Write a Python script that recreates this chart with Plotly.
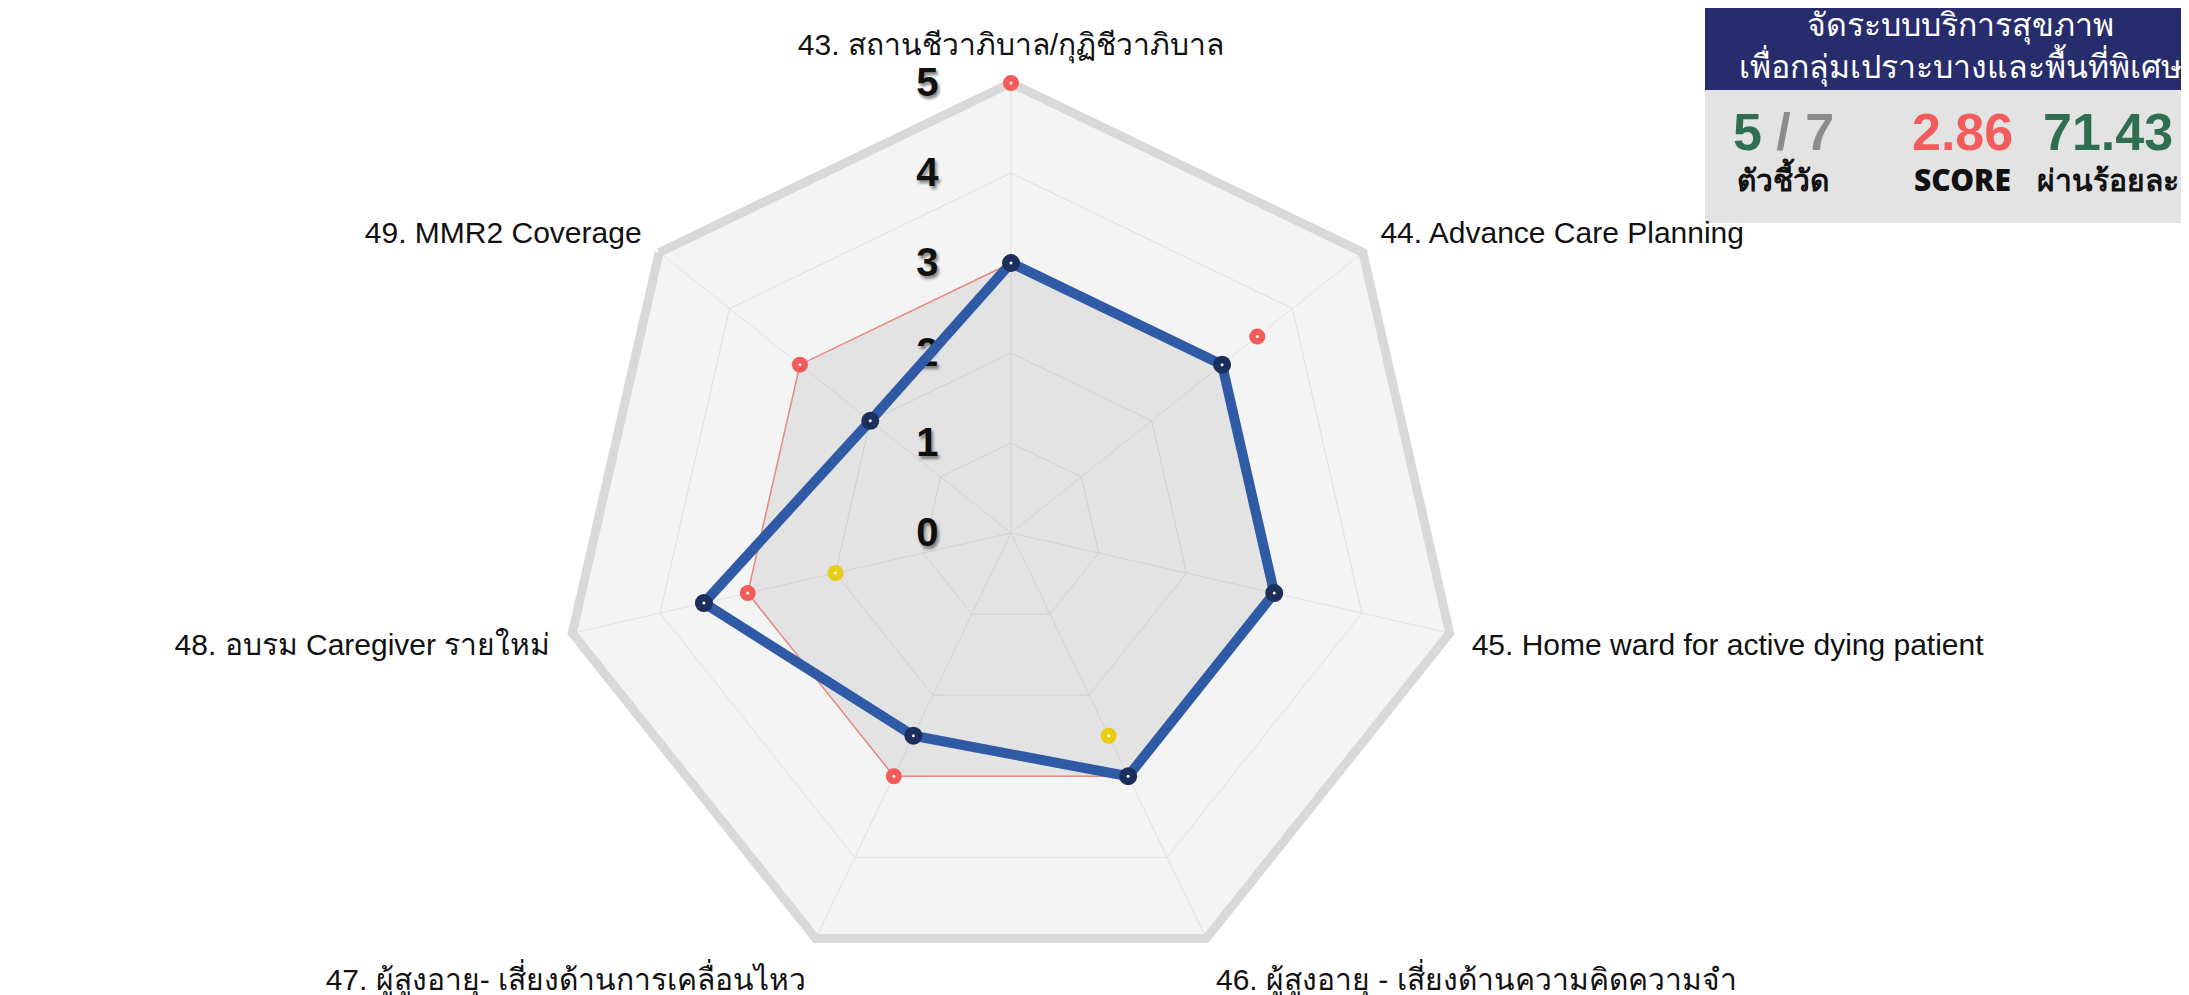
import plotly.graph_objects as go

categories = ["43. สถานชีวาภิบาล/กุฏิชีวาภิบาล", "44. Advance Care Planning",
              "45. Home ward for active dying patient", "46. ผู้สูงอายุ - เสี่ยงด้านความคิดความจำ",
              "47. ผู้สูงอายุ- เสี่ยงด้านการเคลื่อนไหว", "48. อบรม Caregiver รายใหม่", "49. MMR2 Coverage"]
score = [3, 3, 3, 3, 2.5, 3.5, 2]
target = [3, 3, 3, 3, 3, 3, 3]
red_points = [5, 3.5, 3, 3, 3, 3, 3]
yellow_points = [None, None, None, 2.5, None, 2, None]
baseline = [0, 0, 0, 0, 0, 0, 0]
radial_ticks = [0, 1, 2, 3, 4, 5]

header_text = "จัดระบบบริการสุขภาพ<br>เพื่อกลุ่มเปราะบางและพื้นที่พิเศษ"
kpi_values = ["<span style='color:#2f6e50'>5</span><span style='color:#8c8c8c'> / 7</span>",
              "<span style='color:#f25c5c'>2.86</span>",
              "<span style='color:#2f6e50'>71.43</span>"]
kpi_labels = ["ตัวชี้วัด", "SCORE", "ผ่านร้อยละ"]

W, H = 2189, 995
theta = categories + categories[:1]


def dots(r, color, size):
    # coloured disc with a small white centre, like the original markers
    fig.add_trace(go.Scatterpolar(r=r, theta=categories, mode="markers", cliponaxis=False,
                                  marker=dict(size=size, color=color), hoverinfo="skip"))
    fig.add_trace(go.Scatterpolar(r=r, theta=categories, mode="markers", cliponaxis=False,
                                  marker=dict(size=3, color="white"), hoverinfo="skip"))


fig = go.Figure()

# target band (grey fill, thin red outline)
fig.add_trace(go.Scatterpolar(r=target + target[:1], theta=theta, mode="lines", fill="toself",
                              fillcolor="rgba(0,0,0,0.065)", line=dict(color="#e88a80", width=1.5),
                              hoverinfo="skip"))
# zero series -> grey dot at the centre
fig.add_trace(go.Scatterpolar(r=baseline, theta=categories, mode="markers", cliponaxis=False,
                              marker=dict(size=24, color="#d0d0d0"), hoverinfo="skip"))
dots(yellow_points, "#e9cd12", 16)
dots(red_points, "#f45b5b", 16)
fig.add_trace(go.Scatterpolar(r=score + score[:1], theta=theta, mode="lines",
                              line=dict(color="#2f5aa6", width=10)))
dots(score, "#1b2e5c", 18)

fig.update_layout(
    width=W, height=H,
    margin=dict(l=0, r=0, t=0, b=0),
    paper_bgcolor="white",
    showlegend=False,
    font=dict(family="Liberation Sans, Noto Sans, sans-serif", color="#111"),
    polar=dict(
        domain=dict(x=[553 / W, 1453 / W], y=[20 / H, 920 / H]),
        gridshape="linear",
        bgcolor="#f4f4f4",
        radialaxis=dict(range=[0, 5], tickvals=radial_ticks, angle=90, side="counterclockwise",
                        tickangle=90, showline=False, gridcolor="#e0e0e0", gridwidth=1,
                        layer="below traces",
                        ticks="outside", ticklen=58, tickcolor="rgba(0,0,0,0)",
                        tickfont=dict(family="Liberation Sans", size=40, color="#111", weight="bold",
                                      shadow="2px 3px 3px #8a8a8a")),
        angularaxis=dict(rotation=90, direction="clockwise", showline=True, linecolor="#d9d9d9",
                         linewidth=9, gridcolor="#e2e2e2", gridwidth=1, layer="below traces",
                         ticks="outside", ticklen=12, tickcolor="rgba(0,0,0,0)",
                         tickfont=dict(family="Liberation Sans", size=30, color="#111")),
    ),
)

# KPI panel, top right
fig.add_shape(type="rect", xref="paper", yref="paper", x0=1697 / W, x1=1.02, y0=1 - 215 / H, y1=1 - 82 / H,
              fillcolor="#e3e3e3", line_width=0, layer="below")
fig.add_shape(type="rect", xref="paper", yref="paper", x0=1697 / W, x1=1.02, y0=1 - 82 / H, y1=1.02,
              fillcolor="#272d6c", line_width=0, layer="below")
fig.add_annotation(x=1952 / W, y=1 - 39 / H, xref="paper", yref="paper", text=header_text,
                   showarrow=False, xanchor="center", yanchor="middle",
                   font=dict(size=32, color="white"))
kpi_x = [1775, 1954, 2100]
for x, val, lab in zip(kpi_x, kpi_values, kpi_labels):
    fig.add_annotation(x=x / W, y=1 - 124 / H, xref="paper", yref="paper", text=val, showarrow=False,
                       xanchor="center", yanchor="middle",
                       font=dict(family="Liberation Sans", size=52, weight=900))
    fig.add_annotation(x=x / W, y=1 - 171 / H, xref="paper", yref="paper", text=lab, showarrow=False,
                       xanchor="center", yanchor="middle",
                       font=dict(family="Noto Sans, Liberation Sans", size=30, weight=900, color="#111"))

fig.write_html("out.html")
